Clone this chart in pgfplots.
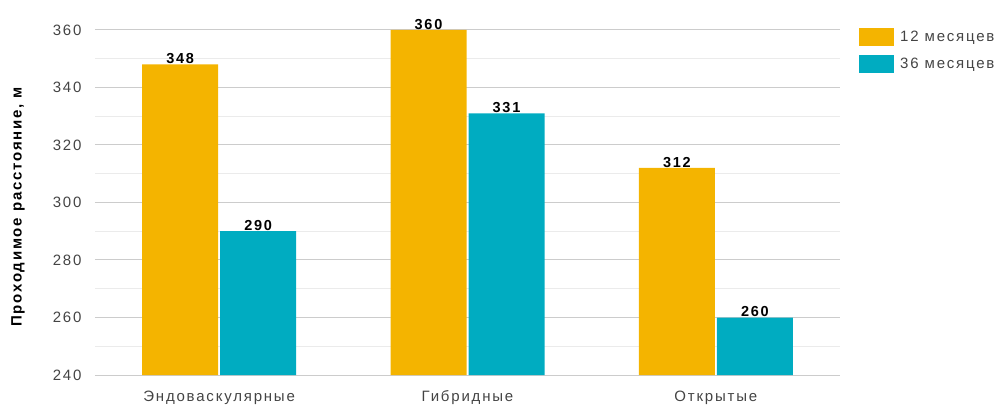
\documentclass[border=0pt]{standalone}
\usepackage{pgfplots}
\pgfplotsset{compat=1.18}
\usepackage{fontspec}
\setmainfont{Liberation Sans}[LetterSpace=12]
\definecolor{cOrange}{HTML}{F4B400}
\definecolor{cTeal}{HTML}{00ACC1}
\definecolor{gMajor}{HTML}{CCCCCC}
\definecolor{gMinor}{HTML}{EBEBEB}
\definecolor{tickgray}{HTML}{444444}
\begin{document}
\begin{tikzpicture}
\path[use as bounding box] (-95bp,-30bp) rectangle (904bp,375bp);
\begin{axis}[
  at={(0,0)}, anchor=south west,
  scale only axis, width=745bp, height=345bp,
  xmin=-0.5, xmax=2.5, ymin=240, ymax=360,
  ybar=2bp, bar width=76bp,
  axis line style={draw=none},
  xtick={0,1,2}, xticklabels={Эндоваскулярные,Гибридные,Открытые},
  ytick={240,260,...,360},
  minor ytick={250,270,...,350},
  major tick length=0pt, minor tick length=0pt,
  ymajorgrids, yminorgrids,
  major grid style={gMajor, line width=1bp},
  minor grid style={gMinor, line width=1bp},
  /pgf/number format/assume math mode=true,
  tick label style={font=\fontsize{15bp}{17bp}\selectfont, text=tickgray},
  yticklabel style={xshift=-10bp},
  xticklabel style={yshift=-12bp, text height=11bp, text depth=3bp},
  ylabel={\textbf{Проходимое расстояние, м}},
  every axis y label/.style={at={(-77bp,169bp)}, rotate=90, anchor=center, font=\fontsize{15bp}{17bp}\selectfont},
  nodes near coords,
  every node near coord/.append style={font=\fontsize{14.5bp}{16bp}\selectfont\bfseries, text=black, inner sep=1bp, yshift=-0.5bp},
  clip=false,
  legend style={at={(rel axis cs:1,1)}, anchor=north west, xshift=16bp, yshift=4bp, draw=none, fill=none,
     font=\fontsize{15bp}{17bp}\selectfont, text=tickgray, row sep=9bp, cells={anchor=west},
     nodes={inner xsep=6bp}},
  legend image code/.code={\fill[#1] (0bp,-9bp) rectangle (35bp,9bp);},
]
\addplot[fill=cOrange, draw=none] coordinates {(0,348) (1,360) (2,312)};
\addplot[fill=cTeal, draw=none] coordinates {(0,290) (1,331) (2,260)};
\legend{12 месяцев, 36 месяцев}
\end{axis}
\end{tikzpicture}
\end{document}
